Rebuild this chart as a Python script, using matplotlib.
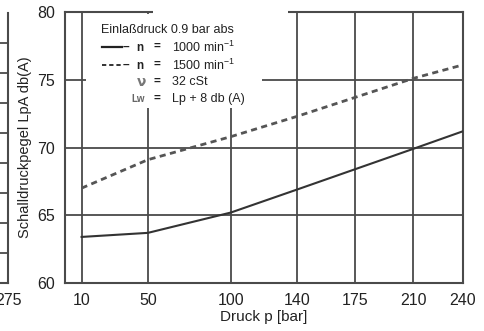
import matplotlib
matplotlib.use("Agg")
import matplotlib.pyplot as plt
from matplotlib.patches import Rectangle

plt.rcParams['font.family'] = ['Liberation Sans Narrow', 'Liberation Sans', 'DejaVu Sans']
plt.rcParams['mathtext.fontset'] = 'custom'
plt.rcParams['mathtext.rm'] = 'Liberation Sans'

# Data
pressure = [10, 50, 100, 140, 175, 210, 240]
lpa_1000 = [63.4, 63.7, 65.2, 66.9, 68.4, 69.9, 71.2]
lpa_1500 = [67.0, 69.1, 70.8, 72.3, 73.7, 75.1, 76.1]
x_ticks = [10, 50, 100, 140, 175, 210, 240]
y_ticks = [60, 65, 70, 75, 80]

W, H = 485, 331
fig = plt.figure(figsize=(W / 100, H / 100), dpi=100)
fig.patch.set_facecolor('white')

def px(x0, y0, x1, y1):
    return [x0 / W, 1 - y1 / H, (x1 - x0) / W, (y1 - y0) / H]

grid_c = '#4a4a4a'

# partial neighbour panel at left edge
axl = fig.add_axes(px(-200, 13, 8, 283))
axl.set_xlim(0, 275)
axl.set_ylim(0, 9)
axl.set_xticks([275])
axl.set_xticklabels(['275'])
axl.set_yticks(range(1, 9))
axl.set_yticklabels([])
axl.tick_params(length=0, pad=7, labelsize=11.5, colors='#222222')
axl.grid(True, axis='y', color=grid_c, lw=1.3)
for s in ['top', 'left']:
    axl.spines[s].set_visible(False)
for s in ['right', 'bottom']:
    axl.spines[s].set_color(grid_c)
    axl.spines[s].set_linewidth(1.5)

# main panel
ax = fig.add_axes(px(65, 12, 463, 283))
ax.set_xlim(0, 240)
ax.set_ylim(60, 80)
ax.set_xticks(x_ticks)
ax.set_yticks(y_ticks)
ax.tick_params(length=0, pad=7, labelsize=11.5, colors='#222222')
ax.grid(True, color=grid_c, lw=1.3, zorder=1)
ax.set_axisbelow(True)
for s in ax.spines.values():
    s.set_color(grid_c)
    s.set_linewidth(1.5)

ax.plot(pressure, lpa_1000, color='#333333', lw=1.5, zorder=3)
ax.plot(pressure, lpa_1500, color='#555555', lw=2.0, dashes=(2.2, 1.6), zorder=3)

ax.set_xlabel('Druck p [bar]', fontsize=11, color='#222222', labelpad=2)
ax.set_ylabel('Schalldruckpegel LpA db(A)', fontsize=10.5, color='#222222', labelpad=4)

# white legend box & scan patch
fig.patches.append(Rectangle((86 / W, 1 - 108 / H), (262 - 86) / W, (108 - 14) / H,
                             transform=fig.transFigure, facecolor='white', edgecolor='none', zorder=5))
fig.patches.append(Rectangle((153 / W, 1 - 15 / H), (288 - 153) / W, 15 / H,
                             transform=fig.transFigure, facecolor='white', edgecolor='none', zorder=5))

def ftxt(x, y, s, **kw):
    kw.setdefault('fontsize', 9)
    kw.setdefault('color', '#222222')
    fig.text(x / W, 1 - y / H, s, va='center', zorder=6, **kw)

ftxt(101, 30, 'Einlaßdruck 0.9 bar abs')
# line samples
fig.lines.append(plt.Line2D([102 / W, 122 / W], [1 - 47 / H, 1 - 47 / H], color='#222222', lw=1.6,
                            transform=fig.transFigure, zorder=6))
fig.lines.append(plt.Line2D([102 / W, 122 / W], [1 - 65 / H, 1 - 65 / H], color='#333333', lw=1.4,
                            dashes=(2.2, 1.5), transform=fig.transFigure, zorder=6))
for yy in (47, 65):
    ftxt(123, yy, '–', fontweight='bold', fontsize=8.5)
    ftxt(136, yy + 1, 'n', fontweight='bold', fontsize=8.5)
    ftxt(154, yy, '=', fontweight='bold', fontsize=8.5)
ftxt(172, 47, '1000 min$^{-1}$')
ftxt(172, 65, '1500 min$^{-1}$')
ftxt(137, 82, 'ν', fontsize=10, color='#777777', fontweight='bold', family='DejaVu Sans')
ftxt(154, 82, '=', fontweight='bold', fontsize=8.5)
ftxt(172, 82, '32 cSt')
ftxt(131, 99, 'Lw', fontsize=7, color='#666666', fontweight='bold')
ftxt(154, 99, '=', fontweight='bold', fontsize=8.5)
ftxt(172, 99, 'Lp + 8 db (A)')

fig.savefig('out.png', dpi=100, facecolor='white')
